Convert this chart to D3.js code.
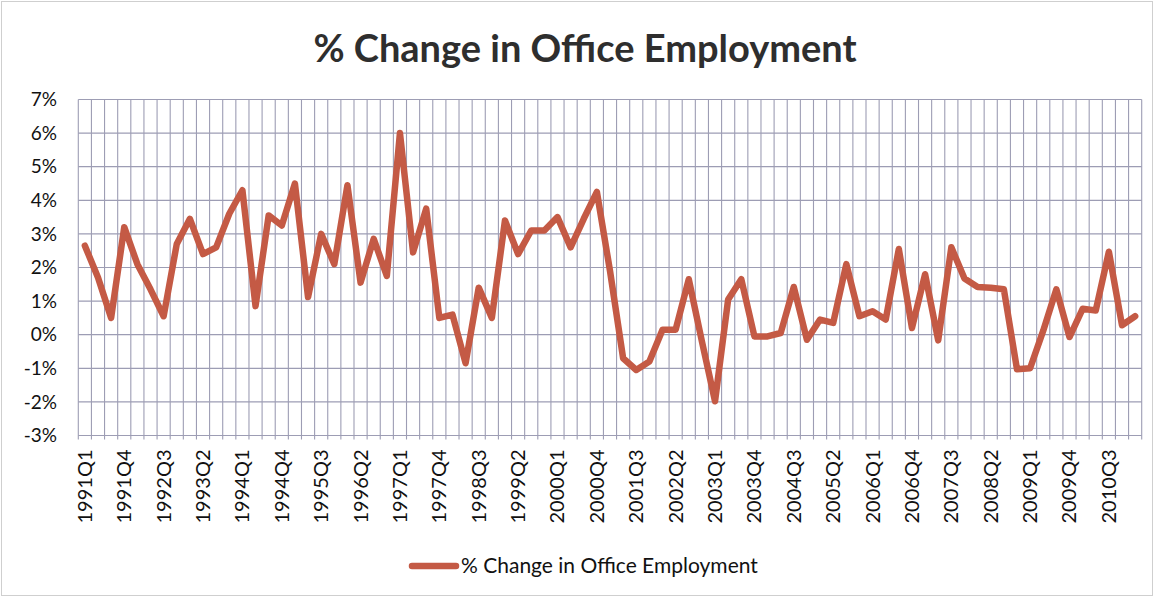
<!DOCTYPE html>
<html>
<head>
<meta charset="utf-8">
<script src="https://cdn.jsdelivr.net/npm/d3@7"></script>
<style>
  html, body { margin: 0; padding: 0; background: #fff; }
  svg { display: block; }
</style>
</head>
<body>
<svg id="chart" width="1155" height="598"></svg>
<script>
// ---- data ----
const years = d3.range(1991, 2012);
const quarters = [];
years.forEach(yr => [1, 2, 3, 4].forEach(q => { if (quarters.length < 81) quarters.push(yr + "Q" + q); }));

const pctChange = [
  2.65, 1.7, 0.5, 3.2, 2.1, 1.35, 0.55, 2.7, 3.45, 2.4,
  2.6, 3.6, 4.3, 0.85, 3.55, 3.25, 4.5, 1.12, 3.0, 2.1,
  4.45, 1.55, 2.85, 1.75, 6.0, 2.45, 3.75, 0.5, 0.6, -0.85,
  1.4, 0.5, 3.4, 2.4, 3.1, 3.1, 3.5, 2.6, 3.45, 4.25,
  1.9, -0.7, -1.05, -0.8, 0.15, 0.15, 1.65, -0.2, -1.98, 1.05,
  1.65, -0.05, -0.05, 0.05, 1.42, -0.15, 0.45, 0.35, 2.1, 0.55,
  0.7, 0.45, 2.55, 0.2, 1.8, -0.17, 2.6, 1.67, 1.42, 1.4,
  1.35, -1.03, -1.0, 0.12, 1.35, -0.07, 0.77, 0.72, 2.47, 0.28,
  0.55
];
const yTicks = [-3, -2, -1, 0, 1, 2, 3, 4, 5, 6, 7];
const seriesName = "% Change in Office Employment";
const titleText = "% Change in Office Employment";

// ---- layout ----
const svg = d3.select("#chart");
const pLeft = 78.3, pRight = 1141.7, pTop = 99.5, pBottom = 435.5;
const gridColor = "#9d9db4";
const lineColor = "#c45a45";
const font = "Lato, 'Open Sans', sans-serif";

svg.append("rect").attr("x", 1.5).attr("y", 1.5).attr("width", 1151).attr("height", 594)
  .attr("fill", "#fff").attr("stroke", "#cfcfcf").attr("stroke-width", 1);

const x = d3.scaleBand().domain(quarters).range([pLeft, pRight]).paddingInner(0).paddingOuter(0);
const y = d3.scaleLinear().domain([-3, 7]).range([pBottom, pTop]);

// horizontal grid
svg.append("g").selectAll("line").data(yTicks).join("line")
  .attr("x1", pLeft).attr("x2", pRight)
  .attr("y1", d => y(d)).attr("y2", d => y(d))
  .attr("stroke", gridColor).attr("stroke-width", 1.2);

// vertical grid (category boundaries)
const bounds = quarters.map(q => x(q)).concat([pRight]);
svg.append("g").selectAll("line").data(bounds).join("line")
  .attr("x1", d => d).attr("x2", d => d)
  .attr("y1", pTop).attr("y2", pBottom + 4)
  .attr("stroke", gridColor).attr("stroke-width", 1.1);

// y labels
svg.append("g").selectAll("text").data(yTicks).join("text")
  .attr("x", 57).attr("y", d => y(d))
  .attr("dy", "0.35em").attr("text-anchor", "end")
  .attr("font-family", font).attr("font-size", 19).attr("fill", "#111")
  .text(d => d + "%");

// x labels every 3rd quarter
const xLabels = quarters.filter((q, i) => i % 3 === 0 && i <= 78);
svg.append("g").selectAll("text").data(xLabels).join("text")
  .attr("transform", d => `translate(${x(d) + x.bandwidth() / 2 + 7},${pBottom + 14}) rotate(-90)`)
  .attr("text-anchor", "end")
  .attr("font-family", font).attr("font-size", 20).attr("fill", "#111")
  .text(d => d);

// line
const line = d3.line()
  .x((d, i) => x(quarters[i]) + x.bandwidth() / 2)
  .y(d => y(d));
svg.append("path").datum(pctChange)
  .attr("d", line)
  .attr("fill", "none").attr("stroke", lineColor)
  .attr("stroke-width", 6.5).attr("stroke-linejoin", "round").attr("stroke-linecap", "round");

// title
svg.append("text").attr("x", 585).attr("y", 62).attr("text-anchor", "middle")
  .attr("font-family", font).attr("font-weight", "bold").attr("font-size", 38).attr("fill", "#2e2e2e")
  .text(titleText);

// legend
const lg = svg.append("g");
lg.append("line").attr("x1", 412).attr("x2", 456).attr("y1", 566).attr("y2", 566)
  .attr("stroke", lineColor).attr("stroke-width", 6.5).attr("stroke-linecap", "round");
lg.append("text").attr("x", 461).attr("y", 566).attr("dy", "0.35em")
  .attr("font-family", font).attr("font-size", 21).attr("fill", "#111")
  .text(seriesName);
</script>
</body>
</html>
